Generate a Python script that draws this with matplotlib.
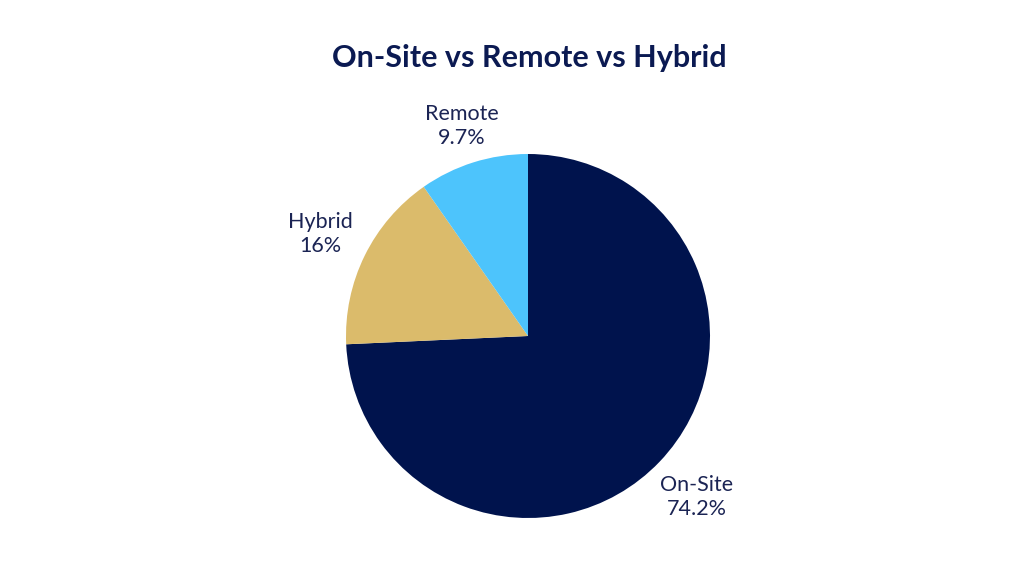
import numpy as np
import matplotlib.pyplot as plt

plt.rcParams['font.family'] = ['Lato', 'DejaVu Sans']

categories = ['On-Site', 'Hybrid', 'Remote']
shares = [74.2, 16.0, 9.7]
share_labels = ['74.2%', '16%', '9.7%']
colors = ['#00134d', '#dbbb6b', '#4dc4fc']
label_dist = [1.28, 1.27, 1.21]

fig = plt.figure(figsize=(10.24, 5.76), dpi=100)
# pie centre at (528, 336) px, radius 182 px
ax = fig.add_axes([(528 - 182) / 1024, (576 - 336 - 182) / 576, 364 / 1024, 364 / 576])

labels = ['{}\n{}'.format(c, s) for c, s in zip(categories, share_labels)]
wedges, texts = ax.pie(shares, labels=labels, colors=colors, startangle=90,
                       counterclock=False, labeldistance=1.0, radius=1.0,
                       textprops=dict(color='#1b2454', fontsize=15.5, linespacing=1.25))
for t, d in zip(texts, label_dist):
    x, y = t.get_position()
    t.set_position((x * d, y * d))
    t.set_ha('center')
    t.set_va('center')
ax.set_xlim(-1, 1)
ax.set_ylim(-1, 1)
ax.set_aspect('equal')

fig.text(529 / 1024, 1 - 58 / 576, 'On-Site vs Remote vs Hybrid', ha='center', va='center',
         fontsize=22, fontweight='bold', color='#0b1a52')

fig.savefig('out.png', dpi=100)
